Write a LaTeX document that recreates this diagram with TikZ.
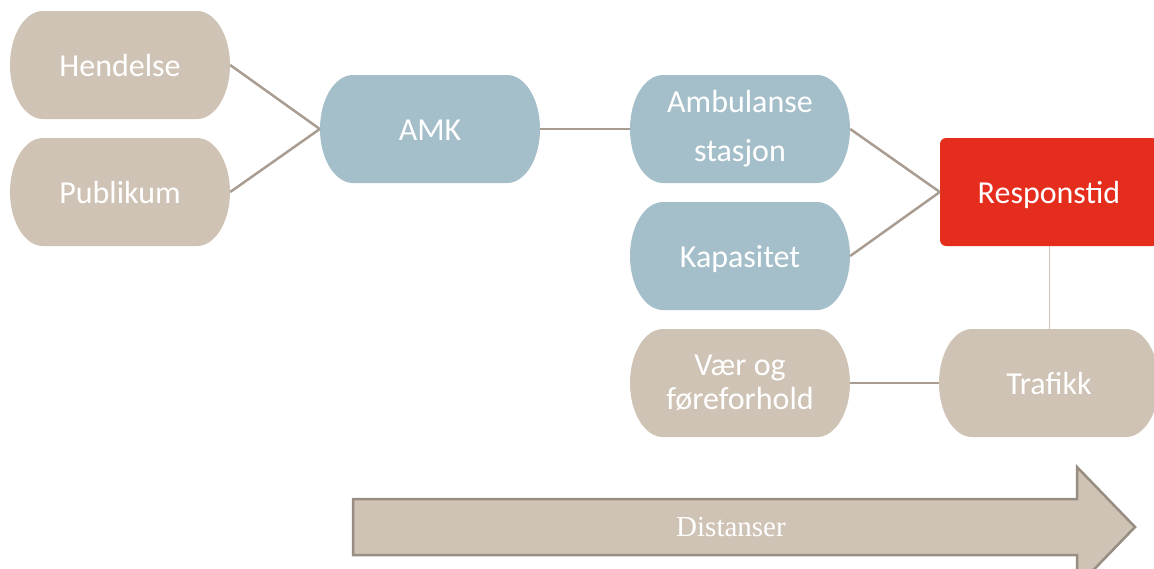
\documentclass[tikz,border=0pt]{standalone}
\usepackage{fontspec}
\setmainfont{Carlito}
\newfontfamily\arrowface{Liberation Serif}
\usepackage{xcolor}
\definecolor{sand}{HTML}{CFC3B5}
\definecolor{steel}{HTML}{A5BFCA}
\definecolor{signal}{HTML}{E42D1D}
\definecolor{wire}{HTML}{A99D91}
\definecolor{rim}{HTML}{978D83}
\tikzset{
  pill/.style={minimum width=220pt, minimum height=108pt, inner sep=0pt,
    text=white, align=center, font=\fontsize{32}{38}\selectfont,
    path picture={\fill[#1]
      ([xshift=33pt]path picture bounding box.north west)
      -- ([xshift=-33pt]path picture bounding box.north east)
      arc[start angle=-90, end angle=90, x radius=33, y radius=54]
      -- ([xshift=33pt]path picture bounding box.south west)
      arc[start angle=90, end angle=270, x radius=33, y radius=54]
      -- cycle;}},
  oneline/.style={text height=28pt, text depth=6pt},
}

\begin{document}
\begin{tikzpicture}[x=1pt, y=-1pt]
    \useasboundingbox (0,0) rectangle (1154,568);
    \clip (0,0) rectangle (1154,568);
    \node[pill=sand, oneline] (hendelse) at (120,65) {Hendelse};
    \node[pill=sand, oneline] (publikum) at (120,192) {Publikum};
    \node[pill=steel, oneline] (amk) at (430,129) {AMK};
    \node[pill=steel] (stasjon) at (740,129) {Ambulanse\\[11pt]stasjon};
    \node[pill=steel, oneline] (kapasitet) at (740,256) {Kapasitet};
    \node[pill=sand, font=\fontsize{32}{34}\selectfont] (vaer) at (740,383) {Vær og\\føreforhold};
    \node[fill=signal, rounded corners=6pt, minimum width=218pt, minimum height=108pt,
      text=white, font=\fontsize{32}{38}\selectfont, oneline] (respons) at (1049,192) {Responstid};
    \node[pill=sand, oneline] (trafikk) at (1049,383) {Trafikk};
    % distance arrow
    \draw[rim, line width=2.5pt, fill=sand] (353,499) -- (1077,499) -- (1077,467)
      -- (1135,527) -- (1077,587) -- (1077,555) -- (353,555) -- cycle;
    \node[text=white, font=\arrowface\fontsize{29}{34}\selectfont] (distanser) at (731,527) {Distanser};
    \begin{scope}[draw=wire, line width=2.5pt]
      \draw (hendelse.east) -- (amk.west) ;
      \draw (publikum.east) -- (amk.west) ;
      \draw (amk.east) -- (stasjon.west) ;
      \draw (stasjon.east) -- (respons.west) ;
      \draw (kapasitet.east) -- (respons.west) ;
      \draw (vaer.east) -- (trafikk.west) ;
    \end{scope}
    \draw[sand, line width=1pt] (respons.south) -- (trafikk.north) ;
  \end{tikzpicture}
\end{document}
